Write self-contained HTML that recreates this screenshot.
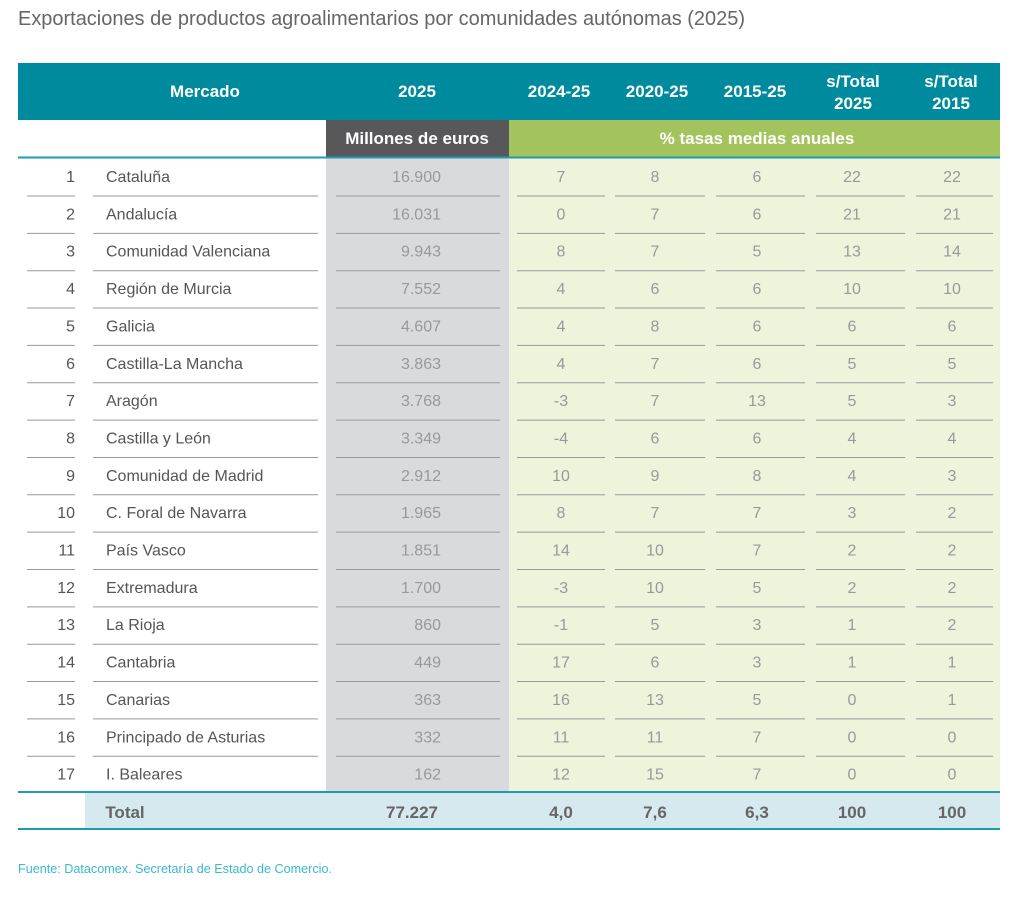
<!DOCTYPE html>
<html><head><meta charset="utf-8"><style>
html,body{margin:0;padding:0;background:#fff;}
svg{display:block}
text{font-family:"Liberation Sans Narrow","Liberation Sans",sans-serif;}
.h{fill:#fff;font-weight:bold;font-size:17px;text-anchor:middle}
.n{fill:#555;font-size:16px}
.v{fill:#999;font-size:16px;text-anchor:middle}
.t{fill:#666;font-weight:bold;font-size:17px;text-anchor:middle}
</style></head><body>
<svg width="1024" height="923" viewBox="0 0 1024 923">
<text x="18" y="25" font-size="20" fill="#666" textLength="727" lengthAdjust="spacingAndGlyphs">Exportaciones de productos agroalimentarios por comunidades autónomas (2025)</text>
<rect x="18" y="63" width="982" height="57" fill="#008a9e"/>
<rect x="326" y="120" width="183" height="37" fill="#58585a"/>
<rect x="509" y="120" width="491" height="37" fill="#a3c45c"/>
<rect x="326" y="158" width="183" height="634" fill="#d9dadc"/>
<rect x="509" y="158" width="491" height="634" fill="#eef3dc"/>
<rect x="85" y="793" width="915" height="36" fill="#d5e9ef"/>
<line x1="18" y1="157.5" x2="1000" y2="157.5" stroke="#1e9bb0" stroke-width="2"/>
<line x1="18" y1="792" x2="1000" y2="792" stroke="#1e9bb0" stroke-width="2"/>
<line x1="18" y1="829" x2="1000" y2="829" stroke="#1e9bb0" stroke-width="2"/>
<text class="h" x="205" y="97">Mercado</text>
<text class="h" x="417" y="97">2025</text>
<text class="h" x="559" y="97">2024-25</text>
<text class="h" x="657" y="97">2020-25</text>
<text class="h" x="755" y="97">2015-25</text>
<text class="h" x="853" y="87">s/Total</text><text class="h" x="853" y="109">2025</text>
<text class="h" x="951" y="87">s/Total</text><text class="h" x="951" y="109">2015</text>
<text class="h" x="417" y="144">Millones de euros</text>
<text class="h" x="757" y="144">% tasas medias anuales</text>
<g id="rows"></g>
<g class="t">
<text x="125" y="818" style="text-anchor:middle">Total</text>
<text x="412" y="818">77.227</text>
<text x="561" y="818">4,0</text>
<text x="655" y="818">7,6</text>
<text x="757" y="818">6,3</text>
<text x="852" y="818">100</text>
<text x="952" y="818">100</text>
</g>
<text x="18" y="873" font-size="13" fill="#3ab8d0" textLength="314" lengthAdjust="spacingAndGlyphs">Fuente: Datacomex. Secretaría de Estado de Comercio.</text>
</svg>
<script>
var d=[["Cataluña","16.900",7,8,6,22,22],["Andalucía","16.031",0,7,6,21,21],["Comunidad Valenciana","9.943",8,7,5,13,14],["Región de Murcia","7.552",4,6,6,10,10],["Galicia","4.607",4,8,6,6,6],["Castilla-La Mancha","3.863",4,7,6,5,5],["Aragón","3.768",-3,7,13,5,3],["Castilla y León","3.349",-4,6,6,4,4],["Comunidad de Madrid","2.912",10,9,8,4,3],["C. Foral de Navarra","1.965",8,7,7,3,2],["País Vasco","1.851",14,10,7,2,2],["Extremadura","1.700",-3,10,5,2,2],["La Rioja","860",-1,5,3,1,2],["Cantabria","449",17,6,3,1,1],["Canarias","363",16,13,5,0,1],["Principado de Asturias","332",11,11,7,0,0],["I. Baleares","162",12,15,7,0,0]];
var s="",cx=[561,655,757,852,952];
var seg=[[27,75],[93,318],[336,500],[517,605],[615,705],[716,805],[816,905],[916,993]];
for(var i=0;i<17;i++){var y=182+i*37.35;var r=d[i];
s+='<text class="n" x="75" y="'+y+'" text-anchor="end">'+(i+1)+'</text>';
s+='<text class="n" x="106" y="'+y+'">'+r[0]+'</text>';
s+='<text class="v" x="441" y="'+y+'" style="text-anchor:end">'+r[1]+'</text>';
for(var j=0;j<5;j++)s+='<text class="v" x="'+cx[j]+'" y="'+y+'">'+r[j+2]+'</text>';
if(i<16){var ly=196+i*37.35;for(var k=0;k<8;k++)s+='<line x1="'+seg[k][0]+'" x2="'+seg[k][1]+'" y1="'+ly+'" y2="'+ly+'" stroke="#999" stroke-width="1"/>';}
}
document.getElementById("rows").innerHTML=s;
</script>
</body></html>
